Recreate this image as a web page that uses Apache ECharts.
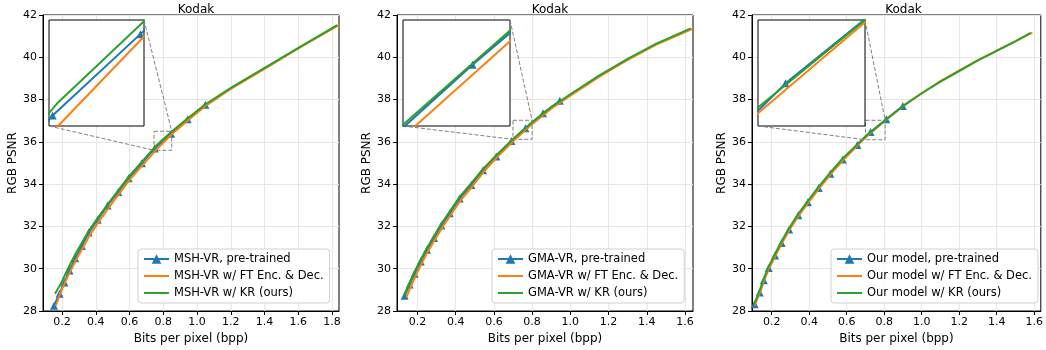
<!DOCTYPE html>
<html>
<head>
<meta charset="utf-8">
<script src="https://cdn.jsdelivr.net/npm/echarts@6/dist/echarts.min.js"></script>
<style>
  html, body { margin: 0; padding: 0; background: #fff; }
  #chart { width: 1046px; height: 350px; }
</style>
</head>
<body>
<div id="chart"></div>
<script>
// data: [bpp, RGB PSNR]
const mshPre = [[0.152,28.25],[0.185,28.82],[0.214,29.35],[0.244,29.92],[0.278,30.49],[0.317,31.07],[0.358,31.71],[0.411,32.32],[0.470,32.99],[0.533,33.63],[0.594,34.28],[0.673,34.99],[0.749,35.69],[0.846,36.38],[0.944,37.07],[1.049,37.75]]
const mshFt = [[0.163,28.25],[0.19,28.85],[0.22,29.4],[0.25,29.9],[0.285,30.45],[0.325,31.02],[0.365,31.6],[0.42,32.25],[0.48,32.92],[0.54,33.56],[0.6,34.2],[0.68,34.92],[0.755,35.6],[0.85,36.36],[0.95,37.05],[1.05,37.7],[1.2,38.5],[1.4,39.45],[1.6,40.42],[1.84,41.52]]
const mshKr = [[0.158,28.82],[0.19,29.25],[0.22,29.75],[0.25,30.25],[0.285,30.78],[0.325,31.33],[0.365,31.88],[0.42,32.5],[0.48,33.15],[0.54,33.78],[0.6,34.4],[0.68,35.12],[0.755,35.8],[0.85,36.49],[0.95,37.15],[1.05,37.78],[1.2,38.55],[1.4,39.5],[1.6,40.45],[1.83,41.52]]

const gmaPre = [[0.133,28.72],[0.159,29.25],[0.185,29.76],[0.217,30.34],[0.25,30.9],[0.287,31.45],[0.325,32.04],[0.369,32.62],[0.421,33.32],[0.482,33.96],[0.543,34.66],[0.613,35.31],[0.692,36.04],[0.765,36.64],[0.857,37.35],[0.945,37.94]]
const gmaFt = [[0.142,28.65],[0.165,29.15],[0.19,29.65],[0.222,30.25],[0.255,30.82],[0.292,31.38],[0.33,31.95],[0.375,32.55],[0.427,33.25],[0.488,33.9],[0.55,34.62],[0.62,35.3],[0.709,36.1],[0.8,36.84],[0.9,37.57],[1.0,38.18],[1.15,39.07],[1.3,39.88],[1.45,40.6],[1.64,41.35]]
const gmaKr = [[0.13,28.75],[0.157,29.3],[0.183,29.82],[0.215,30.4],[0.248,30.96],[0.285,31.52],[0.323,32.1],[0.367,32.68],[0.419,33.38],[0.48,34.02],[0.541,34.7],[0.611,35.36],[0.7,36.13],[0.8,36.93],[0.9,37.65],[1.0,38.25],[1.15,39.13],[1.3,39.93],[1.45,40.65],[1.63,41.37]]

const ourPre = [[0.109,28.32],[0.136,28.88],[0.158,29.45],[0.184,30.03],[0.218,30.62],[0.253,31.22],[0.293,31.85],[0.342,32.53],[0.393,33.14],[0.451,33.82],[0.513,34.49],[0.579,35.16],[0.657,35.85],[0.727,36.47],[0.811,37.07],[0.899,37.7]]
const ourFt = [[0.108,28.25],[0.136,28.85],[0.158,29.4],[0.185,30.0],[0.219,30.6],[0.254,31.2],[0.294,31.83],[0.343,32.5],[0.395,33.12],[0.453,33.8],[0.515,34.47],[0.58,35.13],[0.7,36.21],[0.805,37.0],[0.9,37.68],[1.0,38.3],[1.1,38.87],[1.2,39.38],[1.3,39.87],[1.4,40.32],[1.5,40.76],[1.59,41.17]]
const ourKr = [[0.105,28.3],[0.133,28.9],[0.155,29.46],[0.181,30.05],[0.215,30.65],[0.25,31.25],[0.29,31.88],[0.339,32.56],[0.39,33.17],[0.448,33.85],[0.51,34.52],[0.576,35.19],[0.7,36.26],[0.805,37.02],[0.9,37.7],[1.0,38.3],[1.1,38.85],[1.2,39.35],[1.3,39.85],[1.4,40.3],[1.5,40.75],[1.58,41.15]]

const mshNames = ["MSH-VR, pre-trained", "MSH-VR w/ FT Enc. & Dec.", "MSH-VR w/ KR (ours)"]
const gmaNames = ["GMA-VR, pre-trained", "GMA-VR w/ FT Enc. & Dec.", "GMA-VR w/ KR (ours)"]
const ourNames = ["Our model, pre-trained", "Our model w/ FT Enc. & Dec.", "Our model w/ KR (ours)"]

const xTicksA = [0.2, 0.4, 0.6, 0.8, 1.0, 1.2, 1.4, 1.6, 1.8]
const xTicksB = [0.2, 0.4, 0.6, 0.8, 1.0, 1.2, 1.4, 1.6]

// zoomed regions shown in the insets: [min, max]
const zoomX = [[0.745, 0.85], [0.70, 0.80], [0.70, 0.805]]
const zoomY = [[35.6, 36.5], [36.12, 37.02], [36.1, 37.02]]

const font = "DejaVu Sans"
const colors = ["#1f77b4", "#ff7f0e", "#2ca02c"]

const panels = [
  { data: [mshPre, mshFt, mshKr], names: mshNames, xMin: 0.087, xMax: 1.841, ticks: xTicksA,
    grid: { left: 43, top: 15, width: 296, height: 296 }, inset: { left: 49, top: 20, width: 95, height: 106 }, legendLeft: 138 },
  { data: [gmaPre, gmaFt, gmaKr], names: gmaNames, xMin: 0.093, xMax: 1.642, ticks: xTicksB,
    grid: { left: 397, top: 15, width: 296, height: 296 }, inset: { left: 403, top: 20, width: 107, height: 106 }, legendLeft: 492 },
  { data: [ourPre, ourFt, ourKr], names: ourNames, xMin: 0.095, xMax: 1.635, ticks: xTicksB,
    grid: { left: 752, top: 15, width: 293, height: 296 }, inset: { left: 758, top: 20, width: 107, height: 106 }, legendLeft: 831 },
]

const grid = [], xAxis = [], yAxis = [], series = [], legend = [], title = []

panels.forEach((p, i) => {
  grid[i] = { ...p.grid, show: true, borderColor: "#000", borderWidth: 1, containLabel: false }
  grid[3 + i] = { ...p.inset, show: true, borderColor: "#000", borderWidth: 1, backgroundColor: "#fff", z: 4 }

  xAxis[i] = {
    gridIndex: i, type: "value", min: p.xMin, max: p.xMax,
    name: "Bits per pixel (bpp)", nameLocation: "middle", nameGap: 22,
    nameTextStyle: { fontFamily: font, fontSize: 12, color: "#000" },
    axisLine: { show: true, onZero: false, lineStyle: { color: "#000", width: 1 } },
    axisTick: { show: true, length: 4, customValues: p.ticks, lineStyle: { color: "#000" } },
    axisLabel: { customValues: p.ticks, formatter: v => v.toFixed(1), fontFamily: font, fontSize: 11, color: "#000", margin: 6 },
    splitLine: { show: true, lineStyle: { color: "#e6e6e6", width: 1 } },
  }
  yAxis[i] = {
    gridIndex: i, type: "value", min: 28, max: 42, interval: 2,
    name: "RGB PSNR", nameLocation: "middle", nameGap: 21,
    nameTextStyle: { fontFamily: font, fontSize: 12, color: "#000" },
    axisLine: { show: true, onZero: false, lineStyle: { color: "#000", width: 1 } },
    axisTick: { show: true, length: 4, lineStyle: { color: "#000" } },
    axisLabel: { fontFamily: font, fontSize: 11, color: "#000", margin: 6 },
    splitLine: { show: true, lineStyle: { color: "#e6e6e6", width: 1 } },
  }
  xAxis[3 + i] = { gridIndex: 3 + i, type: "value", min: zoomX[i][0], max: zoomX[i][1], show: false, splitLine: { show: false } }
  yAxis[3 + i] = { gridIndex: 3 + i, type: "value", min: zoomY[i][0], max: zoomY[i][1], show: false, splitLine: { show: false } }

  title.push({
    text: "Kodak", left: p.grid.left + p.grid.width / 2, top: -1, textAlign: "center",
    textStyle: { fontFamily: font, fontSize: 12, fontWeight: "normal", color: "#000" },
  })

  // plain line icons for the series without markers
  legend.push({
    orient: "vertical", left: p.legendLeft, top: 249,
    data: p.names.map((n, s) => s === 0 ? n : { name: n, itemStyle: { opacity: 0 } }),
    itemWidth: 25, itemHeight: 12, itemGap: 5, padding: [4, 6, 4, 5],
    borderColor: "#d0d0d0", borderWidth: 1, borderRadius: 3, backgroundColor: "rgba(255,255,255,0.85)",
    textStyle: { fontFamily: font, fontSize: 11.5, color: "#000" },
  })

  ;[i, 3 + i].forEach((g, k) => {
    p.data.forEach((d, s) => {
      series.push({
        name: p.names[s], type: "line", xAxisIndex: g, yAxisIndex: g, data: d,
        clip: true, animation: false,
        symbol: s === 0 ? "triangle" : "none", symbolSize: 8, showSymbol: s === 0,
        color: colors[s], lineStyle: { color: colors[s], width: 2 },
        z: (k === 0 ? 2 : 6) + s,
      })
    })
  })
})

const chart = echarts.init(document.getElementById("chart"), null, { renderer: "canvas" })
chart.setOption({ animation: false, backgroundColor: "#fff", title, legend, grid, xAxis, yAxis, series })

// dashed zoom box and connectors to the inset
const graphic = []
panels.forEach((p, i) => {
  const a = chart.convertToPixel({ gridIndex: i }, [zoomX[i][0], zoomY[i][0]])
  const b = chart.convertToPixel({ gridIndex: i }, [zoomX[i][1], zoomY[i][1]])
  const c = chart.convertToPixel({ gridIndex: 3 + i }, [zoomX[i][0], zoomY[i][0]])
  const d = chart.convertToPixel({ gridIndex: 3 + i }, [zoomX[i][1], zoomY[i][1]])
  const dash = { stroke: "#808080", lineWidth: 1, lineDash: [4, 2], fill: null }
  graphic.push({ type: "rect", z: 1, shape: { x: a[0], y: b[1], width: b[0] - a[0], height: a[1] - b[1] }, style: dash })
  graphic.push({ type: "line", z: 5, shape: { x1: c[0], y1: c[1], x2: a[0], y2: a[1] }, style: dash })
  graphic.push({ type: "line", z: 5, shape: { x1: d[0], y1: d[1], x2: b[0], y2: b[1] }, style: dash })
})
chart.setOption({ graphic })
</script>
</body>
</html>
